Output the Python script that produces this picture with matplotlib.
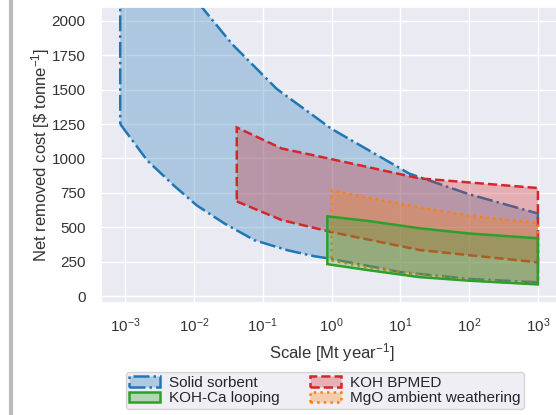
import matplotlib
matplotlib.use("Agg")
import matplotlib.pyplot as plt
import seaborn as sns
from matplotlib.colors import to_rgba
from matplotlib.lines import Line2D

# values (scale in Mt/yr, cost in $/tonne)
sorbent_upper_x = [0.00085, 0.0035, 0.013, 0.036, 0.16, 1, 13.5, 100, 1000]
sorbent_upper_y = [3100, 2550, 2100, 1830, 1505, 1215, 890, 740, 600]
sorbent_lower_x = [0.00085, 0.0021, 0.0051, 0.011, 0.0275, 0.076, 0.23, 0.56, 1, 10, 100, 1000]
sorbent_lower_y = [1250, 985, 804, 659, 529, 406, 333, 290, 270, 175, 125, 100]

bpmed_x = [0.042, 0.19, 1, 19, 1000]
bpmed_upper = [1225, 1072, 995, 855, 785]
bpmed_lower = [688, 552, 465, 335, 245]

mgo_x = [1, 3.5, 19, 100, 1000]
mgo_upper = [768, 715, 645, 585, 530]
mgo_lower = [260, 205, 155, 115, 88]

ca_x = [0.87, 3.5, 19, 100, 1000]
ca_upper = [580, 545, 493, 455, 420]
ca_lower = [232, 188, 138, 112, 85]

sns.set_theme(style="darkgrid")
plt.rcParams['font.family'] = ['Liberation Sans', 'DejaVu Sans']
plt.rcParams['mathtext.fontset'] = 'custom'
plt.rcParams['mathtext.rm'] = 'Liberation Sans'
plt.rcParams['mathtext.it'] = 'Liberation Sans:italic'


def band(ax, xl, yl, xu, yu, color, ls, label):
    xs = list(xl) + list(xu)[::-1]
    ys = list(yl) + list(yu)[::-1]
    patch, = ax.fill(xs, ys, facecolor=to_rgba(color, 0.3), edgecolor=color,
                     linestyle=ls, linewidth=1.8, label=label)
    return patch


fig = plt.figure(figsize=(5.56, 4.15), dpi=100)
ax = fig.add_axes([101 / 556, 1 - 303 / 415, 461 / 556, 296 / 415])

h_sorb = band(ax, sorbent_lower_x, sorbent_lower_y, sorbent_upper_x, sorbent_upper_y,
              '#1f77b4', '-.', 'Solid sorbent')
h_bpmed = band(ax, bpmed_x, bpmed_lower, bpmed_x, bpmed_upper,
               '#d62728', '--', 'KOH BPMED')
h_mgo = band(ax, mgo_x, mgo_lower, mgo_x, mgo_upper,
             '#ff7f0e', ':', 'MgO ambient weathering')
h_ca = band(ax, ca_x, ca_lower, ca_x, ca_upper,
            '#2ca02c', '-', 'KOH-Ca looping')

ax.set_xscale('log')
ax.set_xlim(10 ** -3.35, 10 ** 3.35)
ax.set_ylim(-50, 2100)
ax.set_yticks([0, 250, 500, 750, 1000, 1250, 1500, 1750, 2000])
ax.set_xticks([1e-3, 1e-2, 1e-1, 1, 10, 100, 1000])
ax.tick_params(axis='both', labelsize=11, colors='#333333')
ax.tick_params(axis='y', pad=5)
ax.tick_params(axis='x', pad=4)
ax.minorticks_off()

ax.set_xlabel('Scale [Mt year$^{-1}$]', fontsize=12, color='#333333', labelpad=4)
ax.set_ylabel('Net removed cost [\\$ tonne$^{-1}$]', fontsize=12, color='#333333', labelpad=0)

fig.legend(handles=[h_sorb, h_ca, h_bpmed, h_mgo], ncol=2, fontsize=11,
           loc='upper center', bbox_to_anchor=(325 / 556, 1 - 372 / 415),
           borderaxespad=0, labelspacing=0.1, handlelength=2.0, handleheight=0.7,
           handletextpad=0.6, columnspacing=2.0, borderpad=0.25,
           edgecolor='#cccccc', facecolor='#EAEAF2', framealpha=0.8)

# grey edge of the screenshot on the left
fig.add_artist(Line2D([11 / 556, 11 / 556], [0, 1], transform=fig.transFigure,
                      color='#bbbbbb', linewidth=3))

plt.savefig('out.png', dpi=100)
